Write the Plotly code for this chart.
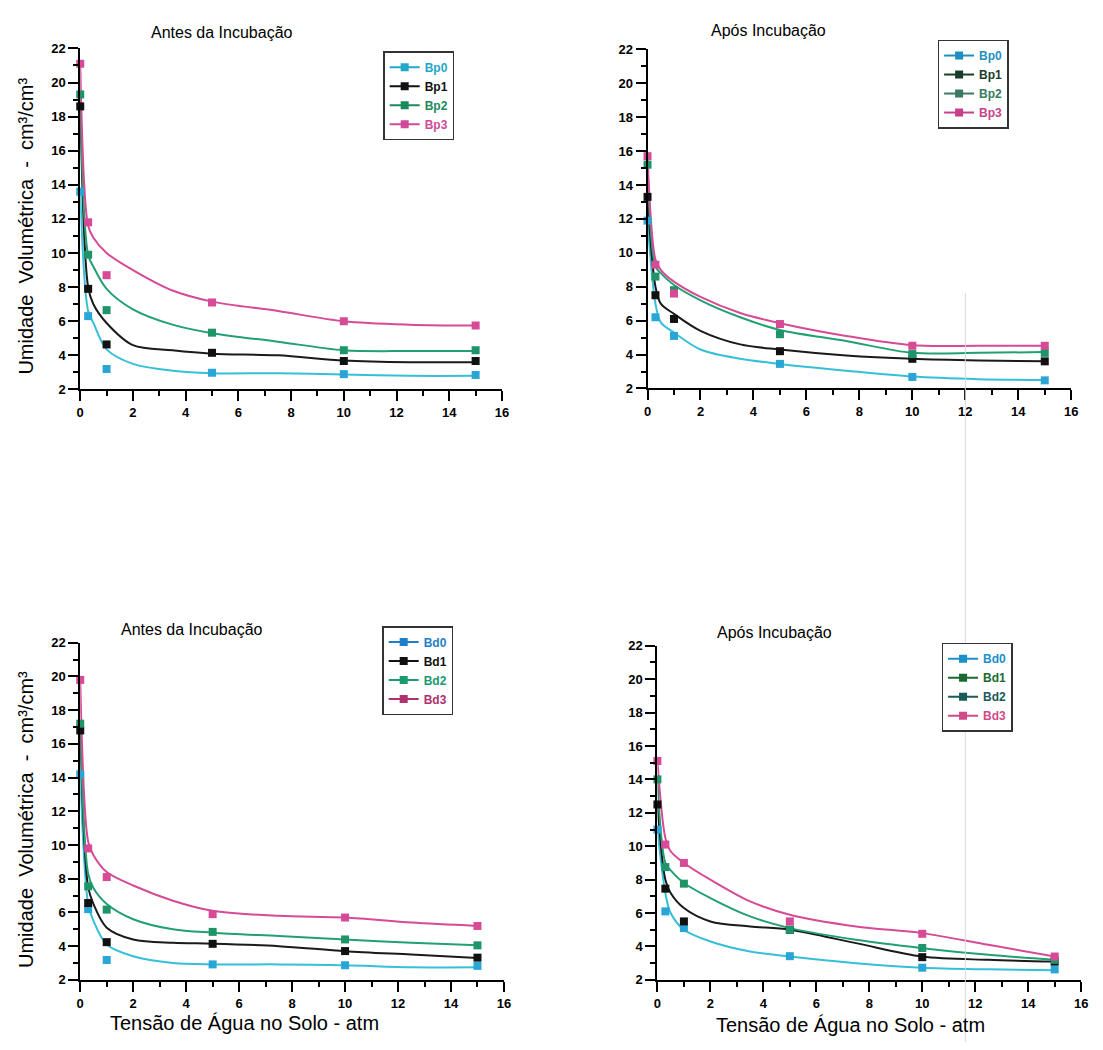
import plotly.graph_objects as go

# ---------------- data ----------------
MARK_X = [0, 0.3, 1, 5, 10, 15]
CURVE_X = [0, 0.3, 0.5, 1, 2, 3.5, 5, 7.5, 10, 12.5, 15]

# Top-left: Antes da Incubação (Bp)
tl_bp0_pts = [13.6, 6.3, 3.2, 2.98, 2.9, 2.85]
tl_bp1_pts = [18.6, 7.9, 4.64, 4.15, 3.67, 3.67]
tl_bp2_pts = [19.3, 9.9, 6.65, 5.33, 4.3, 4.3]
tl_bp3_pts = [21.1, 11.8, 8.7, 7.1, 6.0, 5.75]
tl_bp0_fit = [13.6, 6.6, 5.9, 4.35, 3.5, 3.1, 2.95, 2.95, 2.87, 2.8, 2.8]
tl_bp1_fit = [18.6, 8.0, 7.0, 5.9, 4.6, 4.3, 4.1, 4.0, 3.7, 3.6, 3.6]
tl_bp2_fit = [19.3, 9.9, 9.2, 7.9, 6.7, 5.8, 5.3, 4.8, 4.3, 4.25, 4.25]
tl_bp3_fit = [21.1, 11.6, 10.9, 10.0, 9.0, 7.8, 7.15, 6.6, 6.0, 5.8, 5.75]

# Top-right: Após Incubação (Bp)
tr_bp0_pts = [11.9, 6.2, 5.1, 3.45, 2.68, 2.48]
tr_bp1_pts = [13.3, 7.5, 6.1, 4.2, 3.75, 3.6]
tr_bp2_pts = [15.2, 8.6, 7.8, 5.2, 4.03, 4.1]
tr_bp3_pts = [15.7, 9.3, 7.6, 5.8, 4.52, 4.52]
tr_bp0_fit = [11.9, 7.0, 5.9, 5.3, 4.3, 3.75, 3.45, 3.05, 2.7, 2.55, 2.5]
tr_bp1_fit = [13.3, 8.0, 7.0, 6.4, 5.4, 4.6, 4.3, 3.95, 3.75, 3.65, 3.6]
tr_bp2_fit = [15.2, 9.2, 8.8, 8.1, 7.2, 6.2, 5.45, 4.8, 4.1, 4.1, 4.15]
tr_bp3_fit = [15.7, 9.6, 9.0, 8.3, 7.4, 6.45, 5.85, 5.1, 4.55, 4.52, 4.52]

# Bottom-left: Antes da Incubação (Bd)
bl_bd0_pts = [14.2, 6.2, 3.18, 2.92, 2.87, 2.83]
bl_bd1_pts = [16.8, 6.56, 4.24, 4.14, 3.71, 3.32]
bl_bd2_pts = [17.2, 7.55, 6.17, 4.85, 4.4, 4.05]
bl_bd3_pts = [19.8, 9.8, 8.1, 5.9, 5.7, 5.2]
bl_bd0_fit = [14.2, 6.5, 5.5, 4.1, 3.4, 3.0, 2.92, 2.92, 2.87, 2.75, 2.75]
bl_bd1_fit = [16.8, 7.5, 6.5, 5.1, 4.4, 4.2, 4.15, 4.0, 3.7, 3.5, 3.3]
bl_bd2_fit = [17.2, 8.3, 7.45, 6.5, 5.6, 5.0, 4.8, 4.6, 4.4, 4.2, 4.05]
bl_bd3_fit = [19.8, 10.2, 9.4, 8.4, 7.6, 6.7, 6.1, 5.8, 5.7, 5.4, 5.2]

# Bottom-right: Após Incubação (Bd)
br_bd0_pts = [11.0, 6.1, 5.1, 3.42, 2.73, 2.63]
br_bd1_pts = [12.5, 7.46, 5.5, 5.0, 3.36, 3.1]
br_bd2_pts = [14.0, 8.75, 7.76, 5.0, 3.91, 3.2]
br_bd3_pts = [15.1, 10.1, 9.0, 5.5, 4.76, 3.4]
br_bd0_fit = [11.0, 7.2, 6.0, 5.0, 4.3, 3.7, 3.4, 3.0, 2.73, 2.63, 2.57]
br_bd1_fit = [12.5, 8.0, 7.2, 6.3, 5.5, 5.2, 5.0, 4.2, 3.4, 3.2, 3.1]
br_bd2_fit = [14.0, 9.0, 8.55, 7.8, 6.9, 5.8, 5.1, 4.4, 3.9, 3.5, 3.2]
br_bd3_fit = [15.1, 10.5, 9.7, 9.0, 8.0, 6.7, 5.9, 5.2, 4.8, 4.1, 3.4]

TL_NAMES = ["Bp0", "Bp1", "Bp2", "Bp3"]
TR_NAMES = ["Bp0", "Bp1", "Bp2", "Bp3"]
BL_NAMES = ["Bd0", "Bd1", "Bd2", "Bd3"]
BR_NAMES = ["Bd0", "Bd1", "Bd2", "Bd3"]

TITLES = ["Antes da Incubação", "Após Incubação", "Antes da Incubação", "Após Incubação"]
Y_TITLE = "Umidade  Volumétrica  -  cm³/cm³"
X_TITLE = "Tensão de Água no Solo - atm"

# ---------------- styles ----------------
LINE_COLORS = ["#35c0d8", "#1a1a1a", "#23a072", "#d64a96"]
MARK_COLORS = ["#2aa6d6", "#111111", "#1f9468", "#d64a96"]
LEG_COLORS = [
    ["#22a8c8", "#111111", "#1a8a5a", "#d04a9a"],
    ["#1f8fc0", "#1a3d2a", "#3a7a60", "#c8408a"],
    ["#1f7fc8", "#111111", "#1a9a70", "#b03070"],
    ["#1a90c8", "#1a6a30", "#1a5a5a", "#d04a8a"],
]

W, H = 1103, 1050
def px(v):
    return v / W
def py(v):
    return 1 - v / H

# axis pixel boxes: (x0, x16, y22, y2)
BOXES = [
    (77, 503, 42, 388),
    (650, 1078, 43, 387),
    (77, 505, 645, 987),
    (660, 1088, 648, 987),
]
LEGEND_POS = [(383, 45), (943, 33), (382, 628), (947, 645)]
TITLE_POS = [(220, 26), (772, 24), (190, 632), (778, 635)]

panels = [
    (TL_NAMES, [tl_bp0_pts, tl_bp1_pts, tl_bp2_pts, tl_bp3_pts], [tl_bp0_fit, tl_bp1_fit, tl_bp2_fit, tl_bp3_fit]),
    (TR_NAMES, [tr_bp0_pts, tr_bp1_pts, tr_bp2_pts, tr_bp3_pts], [tr_bp0_fit, tr_bp1_fit, tr_bp2_fit, tr_bp3_fit]),
    (BL_NAMES, [bl_bd0_pts, bl_bd1_pts, bl_bd2_pts, bl_bd3_pts], [bl_bd0_fit, bl_bd1_fit, bl_bd2_fit, bl_bd3_fit]),
    (BR_NAMES, [br_bd0_pts, br_bd1_pts, br_bd2_pts, br_bd3_pts], [br_bd0_fit, br_bd1_fit, br_bd2_fit, br_bd3_fit]),
]

FONT = "Liberation Sans, Arial, sans-serif"

fig = go.Figure()
layout = dict(
    width=W, height=H, margin=dict(l=0, r=0, t=0, b=0),
    paper_bgcolor="white", plot_bgcolor="white", showlegend=True,
    font=dict(family=FONT, color="black"),
)
annotations = []

for i, (names, pts, fits) in enumerate(panels):
    n = i + 1
    xa = "x" if n == 1 else f"x{n}"
    ya = "y" if n == 1 else f"y{n}"
    leg = "legend" if n == 1 else f"legend{n}"
    for k in range(4):
        fig.add_trace(go.Scatter(
            x=CURVE_X, y=fits[k], mode="lines", xaxis=xa, yaxis=ya,
            line=dict(color=LINE_COLORS[k], width=2, shape="spline", smoothing=0.9),
            showlegend=False, hoverinfo="skip"))
    for k in range(4):
        fig.add_trace(go.Scatter(
            x=MARK_X, y=pts[k], mode="markers", xaxis=xa, yaxis=ya,
            marker=dict(symbol="square", size=8, color=MARK_COLORS[k]),
            showlegend=False, cliponaxis=False))
    for k in range(4):
        c = LEG_COLORS[i][k]
        fig.add_trace(go.Scatter(
            x=[None], y=[None], mode="lines+markers", xaxis=xa, yaxis=ya,
            line=dict(color=c, width=2),
            marker=dict(symbol="square", size=8, color=c),
            name=f"<span style='color:{c}'><b>{names[k]}</b></span>",
            legend=leg, showlegend=True))

    x0, x16, y22, y2 = BOXES[i]
    axis_common = dict(
        showline=True, linecolor="black", linewidth=2, showgrid=False, zeroline=False,
        ticks="outside", ticklen=10, tickwidth=2, tickcolor="black",
        tickfont=dict(family=FONT, size=13, color="black", weight=700),
        fixedrange=True,
    )
    layout[f"xaxis{'' if n == 1 else n}"] = dict(
        axis_common, domain=[px(x0), px(x16)], range=[0, 16], dtick=2, tick0=0,
        anchor=ya, minor=dict(dtick=1, ticklen=5, tickwidth=1.5, tickcolor="black", ticks="outside"))
    layout[f"yaxis{'' if n == 1 else n}"] = dict(
        axis_common, domain=[py(y2), py(y22)], range=[2, 22], dtick=2, tick0=2,
        anchor=xa, minor=dict(dtick=1, ticklen=5, tickwidth=1.5, tickcolor="black", ticks="outside"))
    lx, ly = LEGEND_POS[i]
    layout[leg] = dict(
        x=px(lx), y=py(ly), xanchor="left", yanchor="top",
        bgcolor="white", bordercolor="#333333", borderwidth=1.5,
        font=dict(family=FONT, size=12, color="black", weight=700),
        tracegroupgap=0, itemwidth=30, itemclick=False, itemdoubleclick=False,
    )
    tx, ty = TITLE_POS[i]
    annotations.append(dict(
        text=TITLES[i], x=px(tx), y=py(ty), xref="paper", yref="paper",
        showarrow=False, xanchor="center", yanchor="middle",
        font=dict(family=FONT, size=16, color="black")))

# y-axis titles (left panels)
annotations.append(dict(text=Y_TITLE, x=px(22), y=py(222), xref="paper", yref="paper",
                        showarrow=False, textangle=-90, xanchor="center", yanchor="middle",
                        font=dict(family=FONT, size=20, color="black")))
annotations.append(dict(text=Y_TITLE, x=px(22), y=py(824), xref="paper", yref="paper",
                        showarrow=False, textangle=-90, xanchor="center", yanchor="middle",
                        font=dict(family=FONT, size=20, color="black")))
# x-axis titles (bottom panels)
annotations.append(dict(text=X_TITLE, x=px(243), y=py(1031), xref="paper", yref="paper",
                        showarrow=False, xanchor="center", yanchor="middle",
                        font=dict(family=FONT, size=20, color="black")))
annotations.append(dict(text=X_TITLE, x=px(855), y=py(1033), xref="paper", yref="paper",
                        showarrow=False, xanchor="center", yanchor="middle",
                        font=dict(family=FONT, size=20, color="black")))

layout["annotations"] = annotations
layout["shapes"] = [dict(type="line", xref="paper", yref="paper",
                         x0=px(971), x1=px(971), y0=0, y1=py(290),
                         line=dict(color="#d8d8d8", width=1))]

fig.update_layout(**layout)
fig.write_html("out.html")
